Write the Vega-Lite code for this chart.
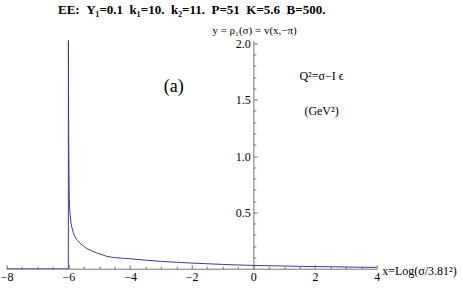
{
  "$schema": "https://vega.github.io/schema/vega-lite/v6.json",
  "width": 370,
  "height": 228.2,
  "autosize": {"type": "none"},
  "padding": {"left": 6.7, "top": 40.5, "right": 86.3, "bottom": 19.3},
  "background": "white",
  "config": {"view": {"stroke": null}},
  "title": {
    "text": "EE:\u00a0\u00a0Y₁=0.1\u00a0\u00a0k₁=10.\u00a0\u00a0k₂=11.\u00a0\u00a0P=51\u00a0\u00a0K=5.6\u00a0\u00a0B=500.",
    "font": "Liberation Serif",
    "fontSize": 13,
    "fontWeight": "bold",
    "color": "black",
    "anchor": "middle",
    "frame": "group",
    "baseline": "alphabetic",
    "offset": -3
  },
  "datasets": {
    "curve": [
      {"i": 0, "x": -8, "y": 0},
      {"i": 1, "x": -6, "y": 0},
      {"i": 2, "x": -6, "y": 2.6},
      {"i": 3, "x": -5.998, "y": 2.0},
      {"i": 4, "x": -5.99, "y": 1.2},
      {"i": 5, "x": -5.98, "y": 0.85},
      {"i": 6, "x": -5.97, "y": 0.62},
      {"i": 7, "x": -5.95, "y": 0.5},
      {"i": 8, "x": -5.92, "y": 0.42},
      {"i": 9, "x": -5.89, "y": 0.37},
      {"i": 10, "x": -5.84, "y": 0.32},
      {"i": 11, "x": -5.78, "y": 0.28},
      {"i": 12, "x": -5.7, "y": 0.25},
      {"i": 13, "x": -5.62, "y": 0.225},
      {"i": 14, "x": -5.5, "y": 0.2},
      {"i": 15, "x": -5.41, "y": 0.18},
      {"i": 16, "x": -5.25, "y": 0.16},
      {"i": 17, "x": -5.08, "y": 0.14},
      {"i": 18, "x": -4.9, "y": 0.123},
      {"i": 19, "x": -4.76, "y": 0.11},
      {"i": 20, "x": -4.54, "y": 0.1},
      {"i": 21, "x": -4.2, "y": 0.092},
      {"i": 22, "x": -3.9, "y": 0.086},
      {"i": 23, "x": -3.5, "y": 0.076},
      {"i": 24, "x": -3.0, "y": 0.065},
      {"i": 25, "x": -2.5, "y": 0.057},
      {"i": 26, "x": -2.0, "y": 0.05},
      {"i": 27, "x": -1.5, "y": 0.044},
      {"i": 28, "x": -1.0, "y": 0.038},
      {"i": 29, "x": -0.5, "y": 0.033},
      {"i": 30, "x": 0, "y": 0.029},
      {"i": 31, "x": 0.5, "y": 0.026},
      {"i": 32, "x": 1.0, "y": 0.024},
      {"i": 33, "x": 1.5, "y": 0.021},
      {"i": 34, "x": 2.0, "y": 0.019},
      {"i": 35, "x": 2.6, "y": 0.017},
      {"i": 36, "x": 3.0, "y": 0.015},
      {"i": 37, "x": 3.5, "y": 0.013},
      {"i": 38, "x": 4.0, "y": 0.012}
    ],
    "big": [
      {"label": "(a)", "x": -2.58, "y": 1.61}
    ],
    "small": [
      {"label": "Q²=σ−I ϵ", "x": 2.21, "y": 1.71},
      {"label": "(GeV²)", "x": 2.21, "y": 1.4}
    ]
  },
  "layer": [
    {
      "data": {"name": "curve"},
      "mark": {"type": "line", "color": "#3d3d99", "strokeWidth": 1, "clip": true},
      "encoding": {
        "x": {
          "field": "x", "type": "quantitative",
          "scale": {"domain": [-8, 4], "nice": false, "zero": false},
          "axis": {
            "orient": "bottom",
            "values": [-8, -6, -4, -2, 0, 2, 4],
            "format": "d",
            "grid": false,
            "domainColor": "#777777",
            "tickColor": "#777777",
            "tickSize": -4,
            "labelPadding": 7,
            "labelFont": "Liberation Serif",
            "labelFontSize": 12,
            "labelColor": "black",
            "labelFlush": false,
            "labelOverlap": false,
            "title": "x=Log(σ/3.81²)",
            "titleFont": "Liberation Serif",
            "titleFontSize": 12,
            "titleFontWeight": "normal",
            "titleColor": "black",
            "titleAngle": 0,
            "titleAlign": "left",
            "titleBaseline": "middle",
            "titleX": 375,
            "titleY": 1.8
          }
        },
        "y": {
          "field": "y", "type": "quantitative",
          "scale": {"domain": [0, 2.025], "nice": false, "zero": false},
          "axis": {
            "orient": "left",
            "offset": -246.67,
            "values": [0.5, 1, 1.5, 2],
            "format": ".1f",
            "grid": false,
            "domainColor": "#777777",
            "tickColor": "#777777",
            "tickSize": -4,
            "labelPadding": 7,
            "labelFont": "Liberation Serif",
            "labelFontSize": 12,
            "labelColor": "black",
            "labelFlush": false,
            "labelOverlap": false,
            "title": "y = ρ₁(σ) = v(x,−π)",
            "titleFont": "Liberation Serif",
            "titleFontSize": 11,
            "titleFontWeight": "normal",
            "titleColor": "black",
            "titleAngle": 0,
            "titleAlign": "center",
            "titleBaseline": "middle",
            "titleX": 0.7,
            "titleY": -10.5
          }
        },
        "order": {"field": "i", "type": "quantitative"}
      }
    },
    {
      "data": {"name": "big"},
      "mark": {"type": "text", "font": "Liberation Serif", "fontSize": 18, "color": "black", "align": "center", "baseline": "middle"},
      "encoding": {
        "x": {
          "field": "x", "type": "quantitative",
          "axis": {
            "orient": "bottom",
            "values": [-7.5, -7, -6.5, -5.5, -5, -4.5, -3.5, -3, -2.5, -1.5, -1, -0.5, 0.5, 1, 1.5, 2.5, 3, 3.5],
            "labels": false,
            "domain": false,
            "grid": false,
            "tickColor": "#777777",
            "tickSize": -2.5,
            "title": null
          }
        },
        "y": {
          "field": "y", "type": "quantitative",
          "axis": {
            "orient": "left",
            "offset": -246.67,
            "values": [0.1, 0.2, 0.3, 0.4, 0.6, 0.7, 0.8, 0.9, 1.1, 1.2, 1.3, 1.4, 1.6, 1.7, 1.8, 1.9],
            "labels": false,
            "domain": false,
            "grid": false,
            "tickColor": "#777777",
            "tickSize": -2.5,
            "title": null
          }
        },
        "text": {"field": "label"}
      }
    },
    {
      "data": {"name": "small"},
      "mark": {"type": "text", "font": "Liberation Serif", "fontSize": 12, "color": "black", "align": "center", "baseline": "middle"},
      "encoding": {
        "x": {"field": "x", "type": "quantitative", "axis": null},
        "y": {"field": "y", "type": "quantitative", "axis": null},
        "text": {"field": "label"}
      }
    }
  ],
  "resolve": {"axis": {"x": "independent", "y": "independent"}}
}
